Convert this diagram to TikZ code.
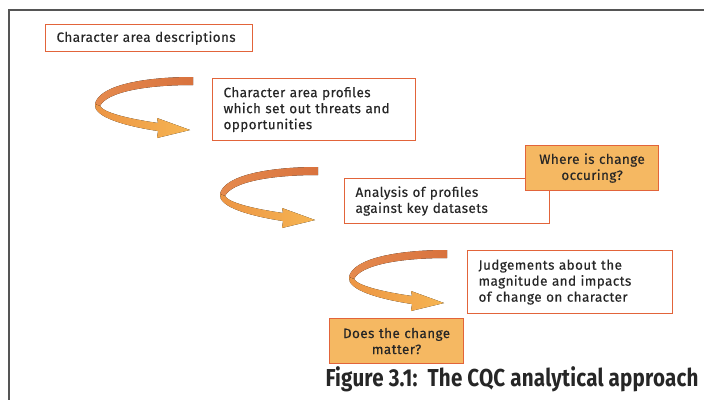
\documentclass[tikz,border=0pt]{standalone}
\usepackage{graphicx}
\usepackage{fontspec}
\setmainfont{Fira Sans}
\newfontfamily\boxfont{Fira Sans}[LetterSpace=3, FakeBold=0.3]
\newfontfamily\figfont{Fira Sans}[LetterSpace=1]
\definecolor{boxline}{HTML}{E2643A}
\definecolor{askfill}{HTML}{F5B862}
\definecolor{textgray}{HTML}{262626}
\definecolor{framegray}{HTML}{555555}
\definecolor{ribbontopL}{HTML}{E58A4E}
\definecolor{ribbontopR}{HTML}{D8723E}
\definecolor{ribbonlowL}{HTML}{EC9444}
\definecolor{ribbonlowR}{HTML}{F6B552}
\tikzset{
  infobox/.style={draw=boxline, line width=1.1pt, fill=white, anchor=north west,
    inner xsep=11pt, inner ysep=3pt, align=left, text=textgray,
    font=\boxfont\fontsize{13.5}{16}\selectfont},
  askbox/.style={infobox, fill=askfill, align=center, inner xsep=6pt}
}
% curved ribbon arrow, origin at its leftmost point
\newcommand{\ribbonarrow}[2]{%
  \begin{scope}[shift={(#1,#2)}]
    \fill[left color=ribbontopL, right color=ribbontopR]
      (98,-30) .. controls (50,-30) and (4,-22) .. (0,-3)
      -- (5,-1) .. controls (12,-15) and (50,-22) .. (98,-22) -- cycle;
    \fill[left color=ribbonlowL, right color=ribbonlowR]
      (0,-3) .. controls (-2,10) and (30,19) .. (63,24)
      -- (62,31) -- (95,23) -- (62,11) -- (63,16)
      .. controls (35,12) and (9,6) .. (5,-1) -- cycle;
  \end{scope}}
\begin{document}
\begin{tikzpicture}[x=1pt, y=-1pt]
    \useasboundingbox (0,0) rectangle (704,400);
    % frame
    \draw[framegray, line width=1.8pt] (704,10) -- (9,10) -- (9,400);

    % boxes
    \node[infobox, text width=185pt, minimum height=27pt] (describe) at (45,24)
      {Character area descriptions};
    \node[infobox, text width=181pt, minimum height=62pt] (profiles) at (212,78)
      {Character area profiles\\which set out threats and\\opportunities};
    \node[infobox, text width=183pt, minimum height=45pt] (analysis) at (344,178)
      {Analysis of profiles\\against key datasets};
    \node[askbox, text width=121pt, minimum height=45pt] (where) at (525,145)
      {Where is change\\occuring?};
    \node[infobox, text width=183pt, minimum height=63pt] (judge) at (467,250)
      {Judgements about the\\magnitude and impacts\\of change on character};
    \node[askbox, text width=122pt, minimum height=45pt] (matter) at (329,318)
      {Does the change\\matter?};

    % ribbon arrows
    \ribbonarrow{95}{107}
    \ribbonarrow{220}{197}
    \ribbonarrow{349}{280}

    % caption
    \node[anchor=base east, font=\figfont\fontsize{24.5}{28}\selectfont\bfseries, text=textgray]
      (caption) at (702,386) {\scalebox{0.84}[1]{Figure 3.1:\ \ The CQC analytical approach}};
\end{tikzpicture}
\end{document}
